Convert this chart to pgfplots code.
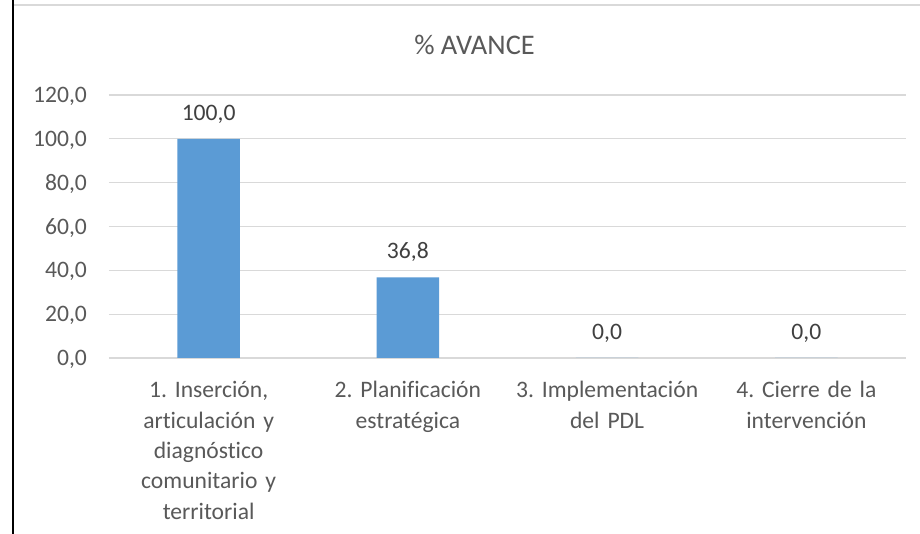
\documentclass[border=0pt]{standalone}
\usepackage{pgfplots}
\pgfplotsset{compat=1.18}
\usepackage{fontspec}
\setmainfont{Carlito}[Ligatures={NoCommon}]
\frenchspacing
\definecolor{barblue}{HTML}{5B9BD5}
\definecolor{txtgray}{HTML}{595959}
\definecolor{lblgray}{HTML}{404040}
\definecolor{gridgray}{HTML}{D9D9D9}
\begin{document}
\frenchspacing
\begin{tikzpicture}
\useasboundingbox (0,0) rectangle (460pt,267pt);
\fill[white] (0,0) rectangle (460pt,267pt);
\draw[gridgray, line width=0.8pt] (6.6pt,264.5pt) -- (460pt,264.5pt);
\draw[black, line width=0.9pt] (6.6pt,0) -- (6.6pt,267pt);
\node[anchor=base, inner sep=0pt, text=txtgray, font=\fontsize{14.2}{17}\selectfont] at (237.25pt,239.85pt) {\% AVANCE};
\begin{axis}[
  at={(54.5pt,88pt)}, anchor=south west,
  scale only axis, width=398.5pt, height=131.5pt,
  xmin=-0.5, xmax=3.5, ymin=0, ymax=120,
  axis line style={draw=none},
  major tick length=0pt,
  ytick={0,20,40,60,80,100,120},
  yticklabels={{0,0},{20,0},{40,0},{60,0},{80,0},{100,0},{120,0}},
  ymajorgrids, grid style={gridgray, line width=0.6pt},
  xtick={0,1,2,3},
  xticklabels={{1. Inserción,\\articulación y\\diagnóstico\\comunitario y\\territorial},
               {2. Planificación\\estratégica},
               {3. Implementación\\del PDL},
               {4. Cierre de la\\intervención}},
  yticklabel style={anchor=east, inner sep=0pt, text depth=0pt, xshift=-10.85pt, text=txtgray, font=\fontsize{11.8}{14}\selectfont},
  xticklabel style={anchor=base, inner sep=0pt, yshift=-19.9pt, align=center, text width=110pt, text=txtgray, font=\fontsize{11.8}{15.2}\selectfont\frenchspacing},
  clip=false,
  nodes near coords={\pgfmathprintnumber[fixed,fixed zerofill,precision=1,use comma,assume math mode=true]{\pgfplotspointmeta}},
  every node near coord/.append style={inner sep=0pt, text depth=0pt, yshift=9pt, text=lblgray, font=\fontsize{11.8}{14}\selectfont},
]
\addplot[ybar, bar width=31.3pt, fill=barblue, draw=none] coordinates {(0,100.0) (1,36.8) (2,0.0) (3,0.0)};
\end{axis}
\end{tikzpicture}
\end{document}
